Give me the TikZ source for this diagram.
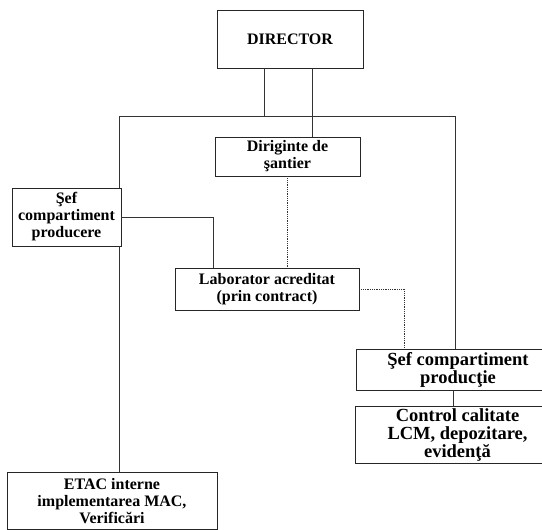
\documentclass[tikz,border=0pt]{standalone}
\usepackage{fontspec}
\setmainfont{Liberation Serif}
\begin{document}
\begin{tikzpicture}[x=1pt,y=-1pt,
  box/.style={draw=black!85, line width=0.9pt, inner sep=0pt, align=center,
    font=\bfseries\fontsize{16}{17}\selectfont},
  bigbox/.style={box, font=\bfseries\fontsize{18.5}{18}\selectfont},
  conn/.style={draw=black!80, line width=0.8pt},
  dconn/.style={conn, densely dotted}]
\fill[white] (0,0) rectangle (542,530);
\useasboundingbox (0,0) rectangle (542,530);

\node[box, minimum width=146pt, minimum height=58pt] (dir) at (290,39) {DIRECTOR};
\node[box, minimum width=145pt, minimum height=39pt] (dir2) at (287.5,156.5) {Diriginte de\\şantier};
\node[box, minimum width=109pt, minimum height=58pt] (sefp) at (66.5,217) {Şef\\compartiment\\producere};
\node[box, minimum width=184pt, minimum height=42pt] (lab) at (267,289) {Laborator acreditat\\(prin contract)};
\node[bigbox, minimum width=204pt, minimum height=41pt] (sefc) at (458,369.5) {Şef compartiment\\producţie};
\node[bigbox, minimum width=205pt, minimum height=57pt] (ctrl) at (457.5,434.5) {Control calitate\\LCM, depozitare,\\evidenţă};
\node[box, minimum width=210pt, minimum height=57pt] (etac) at (112,501) {ETAC interne\\implementarea MAC,\\Verificări};

\coordinate (hL) at (119,116);
\coordinate (hR) at (455,116);
\coordinate (j1) at (264,116);
\coordinate (j2) at (312,0);
\coordinate (k1) at (213,0);
\coordinate (k2) at (287,0);
\coordinate (k3) at (404,0);
\coordinate (k4) at (453,0);

\draw[conn] (hL) -- (hR);
\draw[conn] (dir.south -| j1) -- (j1);
\draw[conn] (dir.south -| j2) -- (dir2.north -| j2);
\draw[conn] (hL) -- (sefp.north -| hL);
\draw[conn] (hR) -- (sefc.north -| hR);
\draw[conn] (sefp.south -| hL) -- (etac.north -| hL);
\draw[conn] (sefp.east) -- (sefp.east -| k1) -- (lab.north -| k1);
\draw[dconn] (dir2.south -| k2) -- (lab.north -| k2);
\draw[dconn] (lab.east) -- (lab.east -| k3) -- (sefc.north -| k3);
\draw[conn] (sefc.south -| k4) -- (ctrl.north -| k4);
\end{tikzpicture}
\end{document}
